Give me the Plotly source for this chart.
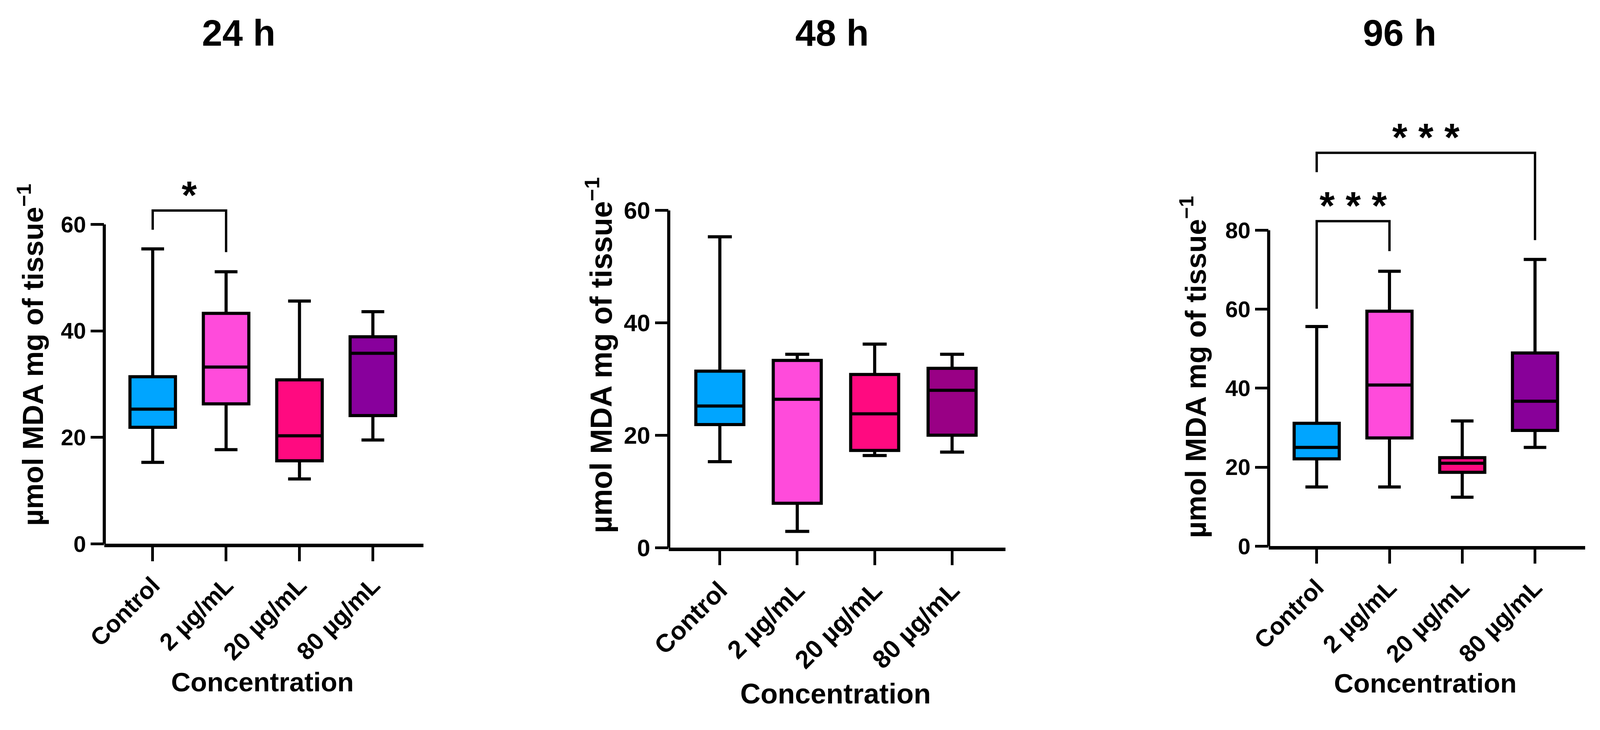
import plotly.graph_objects as go

W, H = 4196, 1869

groups = ["Control", "2 µg/mL", "20 µg/mL", "80 µg/mL"]
times = ["24 h", "48 h", "96 h"]

# box statistics (µmol MDA mg of tissue-1)
low_24 = [15.3, 17.7, 12.2, 19.5]
q1_24 = [21.9, 26.3, 15.6, 24.1]
med_24 = [25.3, 33.2, 20.3, 35.8]
q3_24 = [31.4, 43.3, 30.8, 38.9]
high_24 = [55.4, 51.1, 45.6, 43.6]

low_48 = [15.3, 2.9, 16.4, 17.0]
q1_48 = [21.9, 7.9, 17.3, 20.0]
med_48 = [25.2, 26.4, 23.8, 28.0]
q3_48 = [31.4, 33.3, 30.8, 31.9]
high_48 = [55.3, 34.4, 36.2, 34.4]

low_96 = [15.0, 15.0, 12.4, 25.0]
q1_96 = [22.1, 27.4, 18.7, 29.3]
med_96 = [25.0, 40.8, 21.0, 36.7]
q3_96 = [31.1, 59.5, 22.4, 48.9]
high_96 = [55.6, 69.6, 31.7, 72.6]

# significance brackets: (group a, group b, bar height, leg a end, leg b end, label)
sig_24 = [(0, 1, 62.6, 59.0, 54.8, "*")]
sig_48 = []
sig_96 = [(0, 1, 82.3, 60.1, 74.7, "* * *"),
          (0, 3, 99.6, 94.7, 77.5, "* * *")]

yticks_24 = [0, 20, 40, 60]
yticks_48 = [0, 20, 40, 60]
yticks_96 = [0, 20, 40, 60, 80]

colors_24 = ["#00A5FF", "#FF4BDB", "#FF0A80", "#88009C"]
colors_48 = ["#00A5FF", "#FF4BDB", "#FF0A80", "#990085"]
colors_96 = ["#00A5FF", "#FF4BDB", "#FF0A80", "#880099"]

FONT = "Liberation Sans, Arial, sans-serif"


# the page is photographed slightly shifted, so map target pixels to paper
def px(X):
    return ((X - 59) / 1.012) / W


def py(Y):
    return 1 - ((Y - 42) / 0.984) / H


# target pixel layout of each panel
panels = [
    dict(left=273, right=1110, bottom=1421, top=516.2, ymax=65, axis_top=60,
         title_xy=(625, 85), ylab_xy=(80, 927), xlab_xy=(688, 1783), fs=62),
    dict(left=1753, right=2636, bottom=1431, top=549, ymax=60, axis_top=60,
         title_xy=(2181, 85), ylab_xy=(1570, 927), xlab_xy=(2190, 1813), fs=65),
    dict(left=3326, right=4156, bottom=1427, top=373.8, ymax=102, axis_top=80,
         title_xy=(3669, 85), ylab_xy=(3129, 958), xlab_xy=(3737, 1786), fs=62),
]

stats = [
    (low_24, q1_24, med_24, q3_24, high_24, colors_24, sig_24, yticks_24),
    (low_48, q1_48, med_48, q3_48, high_48, colors_48, sig_48, yticks_48),
    (low_96, q1_96, med_96, q3_96, high_96, colors_96, sig_96, yticks_96),
]

fig = go.Figure()
shapes = []
annotations = []
layout = {}

for p, (pan, st) in enumerate(zip(panels, stats), start=1):
    lo, q1, md, q3, hi, cols, sigs, yt = st
    xa = "x" if p == 1 else f"x{p}"
    ya = "y" if p == 1 else f"y{p}"

    for i, g in enumerate(groups):
        fig.add_trace(go.Box(
            x=[g], q1=[q1[i]], median=[md[i]], q3=[q3[i]],
            lowerfence=[lo[i]], upperfence=[hi[i]],
            xaxis=xa, yaxis=ya,
            fillcolor=cols[i],
            line=dict(color="black", width=8),
            width=0.62, whiskerwidth=0.5,
            boxpoints=False, showlegend=False, hoverinfo="skip",
        ))

    xdom = [px(pan["left"]), px(pan["right"])]
    ydom = [py(pan["bottom"]), py(pan["top"])]

    layout["xaxis" if p == 1 else f"xaxis{p}"] = dict(
        domain=xdom, anchor=ya, type="category",
        categoryorder="array", categoryarray=groups,
        range=[-0.66, 3.69],
        showline=True, linecolor="black", linewidth=9,
        ticks="outside", ticklen=36, tickwidth=7, tickcolor="black",
        tickangle=-45, showgrid=False, zeroline=False,
        tickfont=dict(family=FONT, size=pan["fs"], color="black", weight="bold"),
    )
    layout["yaxis" if p == 1 else f"yaxis{p}"] = dict(
        domain=ydom, anchor=xa, range=[0, pan["ymax"]],
        tickvals=yt, ticktext=[str(v) for v in yt],
        showline=False, showgrid=False, zeroline=False,
        ticks="outside", ticklen=34, tickwidth=7, tickcolor="black",
        tickfont=dict(family=FONT, size=pan["fs"] - 4, color="black", weight="bold"),
    )

    # y axis line only up to the last tick
    shapes.append(dict(type="line", xref="paper", yref=ya,
                       x0=xdom[0], x1=xdom[0], y0=0, y1=pan["axis_top"],
                       line=dict(color="black", width=8)))

    for a, b, top, la, lb, lab in sigs:
        shapes.append(dict(type="path", xref=xa, yref=ya,
                           path=f"M {a},{la} L {a},{top} L {b},{top} L {b},{lb}",
                           line=dict(color="black", width=6)))
        annotations.append(dict(x=(a + b) / 2, y=top, xref=xa, yref=ya,
                                text=lab, showarrow=False, yanchor="middle",
                                yshift=40,
                                font=dict(family=FONT, size=100, color="black",
                                          weight="bold")))

    tx, ty = pan["title_xy"]
    annotations.append(dict(x=px(tx), y=py(ty), xref="paper", yref="paper",
                            text=times[p - 1], showarrow=False,
                            xanchor="center", yanchor="middle",
                            font=dict(family=FONT, size=94, color="black",
                                      weight="bold")))
    lx, ly = pan["ylab_xy"]
    annotations.append(dict(x=px(lx), y=py(ly), xref="paper", yref="paper",
                            text="µmol MDA mg of tissue<sup>−1</sup>",
                            showarrow=False, textangle=-90,
                            xanchor="center", yanchor="middle",
                            font=dict(family=FONT, size=pan["fs"] + 12,
                                      color="black", weight="bold")))
    cx, cy = pan["xlab_xy"]
    annotations.append(dict(x=px(cx), y=py(cy), xref="paper", yref="paper",
                            text="Concentration", showarrow=False,
                            xanchor="center", yanchor="middle",
                            font=dict(family=FONT, size=pan["fs"] + 7,
                                      color="black", weight="bold")))

fig.update_layout(
    width=W, height=H, autosize=False,
    margin=dict(l=0, r=0, t=0, b=0),
    paper_bgcolor="white", plot_bgcolor="white",
    boxmode="overlay", showlegend=False,
    shapes=shapes, annotations=annotations,
    **layout,
)

fig.write_html("out.html")
